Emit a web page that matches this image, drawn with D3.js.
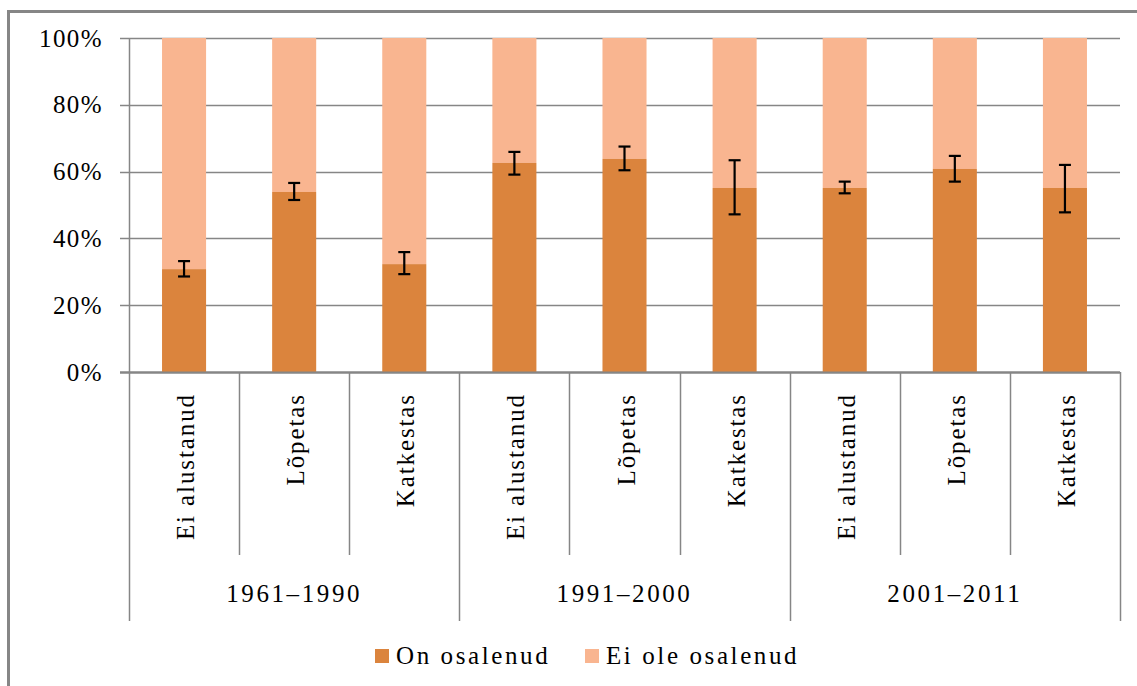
<!DOCTYPE html>
<html>
<head>
<meta charset="utf-8">
<script src="https://cdn.jsdelivr.net/npm/d3@7"></script>
<style>
  html, body { margin: 0; padding: 0; background: #fff; }
  svg { display: block; }
</style>
</head>
<body>
<svg id="chart" width="1137" height="686"></svg>
<script>
const groups = ["1961–1990", "1991–2000", "2001–2011"];
const subcats = ["Ei alustanud", "Lõpetas", "Katkestas"];
const participated = [30.8, 53.9, 32.3, 62.6, 63.8, 55.1, 55.1, 60.8, 55.1];
const errLow = [28.6, 51.5, 29.3, 59.1, 60.4, 47.2, 53.5, 57.0, 47.8];
const errHigh = [33.2, 56.6, 35.9, 65.9, 67.5, 63.4, 57.0, 64.7, 62.0];
const yTicks = [0, 20, 40, 60, 80, 100];
const seriesNames = ["On osalenud", "Ei ole osalenud"];
const colors = ["#DB843D", "#F9B590"];

(function () {
const rows = [];
groups.forEach((g, gi) => subcats.forEach((s, si) => {
  const i = gi * subcats.length + si;
  rows.push({ key: i, group: g, sub: s, on: participated[i], lo: errLow[i], hi: errHigh[i] });
}));

const svg = d3.select("#chart")
  .attr("font-family", "'Times New Roman', Times, 'Liberation Serif', 'Noto Serif', 'DejaVu Serif', serif");
const pL = 129, pR = 1120, pT = 38, pB = 372;
const grid = "#868686";
const fs = 25;

// outer border
svg.append("rect").attr("x", 8.5).attr("y", 11.5).attr("width", 1140).attr("height", 700)
  .attr("fill", "none").attr("stroke", grid).attr("stroke-width", 3);

const x = d3.scaleBand().domain(rows.map(d => d.key)).range([pL, pR]).paddingInner(0.6).paddingOuter(0.3);
const xb = d3.scaleBand().domain(rows.map(d => d.key)).range([pL, pR]);
const y = d3.scaleLinear().domain([0, 100]).range([pB, pT]);

// gridlines
svg.append("g").selectAll("line").data(yTicks).join("line")
  .attr("x1", pL - 9).attr("x2", pR)
  .attr("y1", d => Math.round(y(d)) + 0.5).attr("y2", d => Math.round(y(d)) + 0.5)
  .attr("stroke", grid).attr("stroke-width", d => d === 0 ? 2 : 1.5);

// y labels
svg.append("g").selectAll("text").data(yTicks).join("text")
  .attr("x", 103).attr("y", d => y(d) + 8.5)
  .attr("text-anchor", "end").attr("font-size", fs).attr("letter-spacing", 1.4)
  .text(d => d + "%");

// y axis line
svg.append("line").attr("x1", pL + 0.5).attr("x2", pL + 0.5).attr("y1", pT).attr("y2", 621)
  .attr("stroke", grid).attr("stroke-width", 1.5);

// bars
const bars = svg.append("g");
bars.selectAll("rect.light").data(rows).join("rect").attr("class", "light")
  .attr("x", d => x(d.key)).attr("width", x.bandwidth())
  .attr("y", y(100)).attr("height", d => y(d.on) - y(100))
  .attr("fill", colors[1]);
bars.selectAll("rect.dark").data(rows).join("rect").attr("class", "dark")
  .attr("x", d => x(d.key)).attr("width", x.bandwidth())
  .attr("y", d => y(d.on)).attr("height", d => y(0) - y(d.on))
  .attr("fill", colors[0]);

// redraw 0 line on top
svg.append("line").attr("x1", pL - 9).attr("x2", pR).attr("y1", y(0) + 0.5).attr("y2", y(0) + 0.5)
  .attr("stroke", grid).attr("stroke-width", 2);

// error bars
const eb = svg.append("g").attr("stroke", "#000").attr("stroke-width", 2.2);
rows.forEach(d => {
  const cx = x(d.key) + x.bandwidth() / 2;
  eb.append("line").attr("x1", cx).attr("x2", cx).attr("y1", y(d.hi)).attr("y2", y(d.lo));
  eb.append("line").attr("x1", cx - 6).attr("x2", cx + 6).attr("y1", y(d.hi)).attr("y2", y(d.hi));
  eb.append("line").attr("x1", cx - 6).attr("x2", cx + 6).attr("y1", y(d.lo)).attr("y2", y(d.lo));
});

// category separators
const boundaries = d3.range(1, rows.length + 1);
svg.append("g").selectAll("line").data(boundaries).join("line")
  .attr("x1", i => Math.round(pL + i * xb.bandwidth()) + 0.5)
  .attr("x2", i => Math.round(pL + i * xb.bandwidth()) + 0.5)
  .attr("y1", pB)
  .attr("y2", i => i % subcats.length === 0 ? 621 : 555)
  .attr("stroke", grid).attr("stroke-width", 1.5);

// rotated sub labels
svg.append("g").selectAll("text").data(rows).join("text")
  .attr("transform", d => `translate(${xb(d.key) + xb.bandwidth() / 2 + 10},393) rotate(-90)`)
  .attr("text-anchor", "end").attr("font-size", fs).attr("letter-spacing", 1.9)
  .text(d => d.sub);

// group labels
const gw = xb.bandwidth() * subcats.length;
svg.append("g").selectAll("text").data(groups).join("text")
  .attr("x", (d, i) => pL + gw * i + gw / 2).attr("y", 602)
  .attr("text-anchor", "middle").attr("font-size", fs).attr("letter-spacing", 2.6)
  .text(d => d);

// legend
const legX = [375, 585];
const leg = svg.append("g");
seriesNames.forEach((n, i) => {
  leg.append("rect").attr("x", legX[i]).attr("y", 649).attr("width", 14).attr("height", 14).attr("fill", colors[i]);
  leg.append("text").attr("x", legX[i] + 21).attr("y", 664).attr("font-size", fs).attr("letter-spacing", 2.6).text(n);
});
})();
</script>
</body>
</html>
